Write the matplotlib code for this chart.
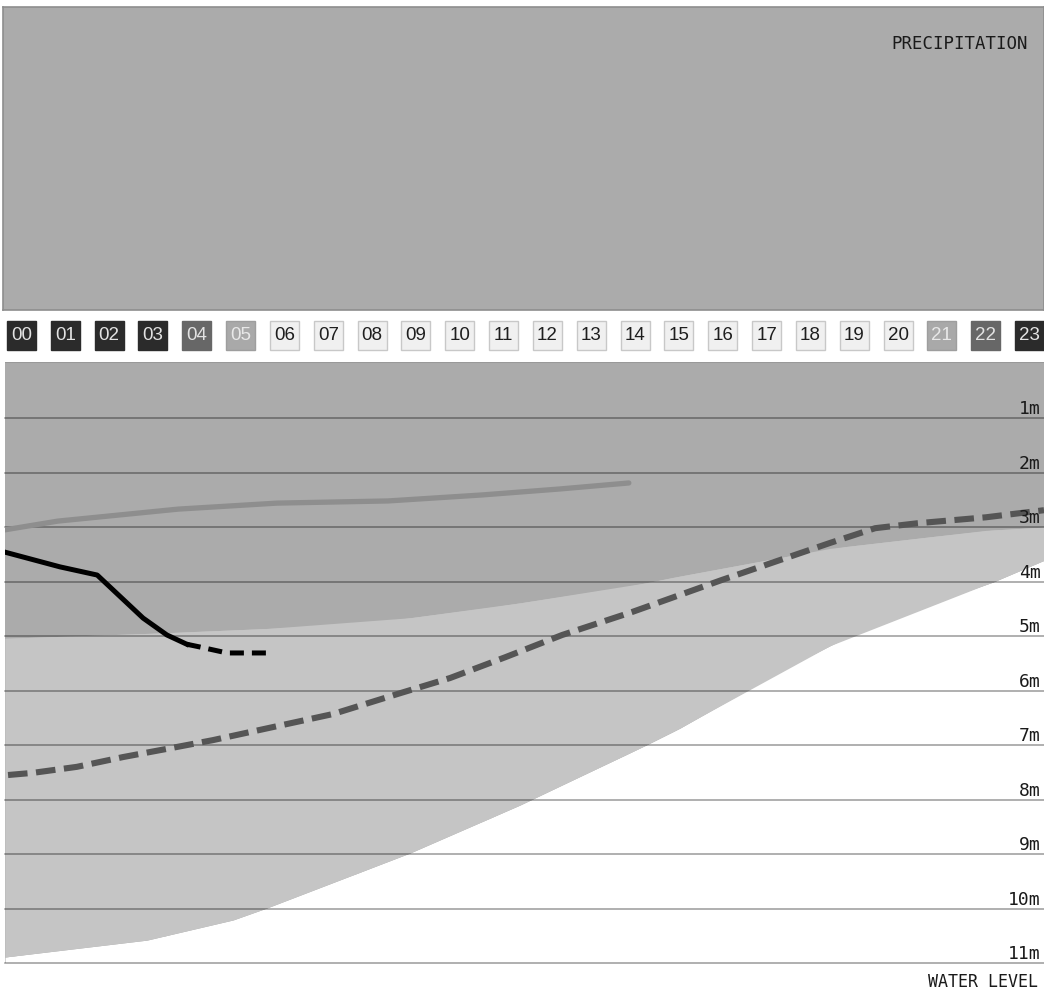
import numpy as np
import matplotlib
matplotlib.use('Agg')
import matplotlib.pyplot as plt
import matplotlib.transforms as mtransforms

# hour strip
hours = list(range(24))
hour_labels = ['%02d' % h for h in hours]
hour_shade = ['dark', 'dark', 'dark', 'dark', 'mid', 'light', 'day', 'day', 'day', 'day',
              'day', 'day', 'day', 'day', 'day', 'day', 'day', 'day', 'day', 'day',
              'day', 'light', 'mid', 'dark']

# water level panel (x in hours, y in metres below top)
depth_ticks = [1, 2, 3, 4, 5, 6, 7, 8, 9, 10, 11]

band_top_x = [0, 3.70, 8.13, 11.23, 14.32, 15.45, 19.06, 22.66, 24.0]
band_top_y = [5.04, 4.94, 4.79, 4.47, 4.10, 3.92, 3.39, 3.06, 3.00]

band_bot_x = [0, 3.28, 5.27, 6.05, 9.36, 11.90, 14.81, 15.59, 17.12, 18.02, 19.45, 20.65, 21.46, 22.82, 24.0]
band_bot_y = [10.89, 10.58, 10.21, 9.99, 8.98, 8.10, 7.00, 6.69, 6.00, 5.59, 5.02, 4.56, 4.38, 4.01, 3.61]

grey_x = [0, 1.22, 4.0, 6.28, 8.85, 11.02, 12.82, 14.41]
grey_y = [3.05, 2.89, 2.67, 2.56, 2.52, 2.41, 2.30, 2.19]

black_x = [0, 1.27, 2.13, 3.19, 3.74, 4.20]
black_y = [3.46, 3.73, 3.88, 4.67, 4.98, 5.15]
black_fc_x = [4.20, 4.50, 5.13, 6.05]
black_fc_y = [5.15, 5.20, 5.31, 5.31]

dash_x = [0.07, 0.65, 1.66, 2.73, 3.74, 4.80, 6.19, 7.58, 9.12, 10.28, 11.55, 12.87, 14.48,
          16.56, 18.25, 19.06, 20.10, 21.07, 22.66, 24.0]
dash_y = [7.55, 7.51, 7.40, 7.22, 7.07, 6.91, 6.67, 6.43, 6.05, 5.77, 5.39, 4.98, 4.56,
          3.97, 3.51, 3.29, 3.02, 2.93, 2.82, 2.69]

W, H = 1044, 992
fig = plt.figure(figsize=(W / 100., H / 100.), dpi=100)
fig.patch.set_facecolor('white')

def px_axes(x0, y0, x1, y1):
    return fig.add_axes([x0 / W, 1 - y1 / H, (x1 - x0) / W, (y1 - y0) / H])

mono = 'DejaVu Sans Mono'
bg = '#ababab'

# precipitation panel
ax_p = px_axes(3, 7, 1044, 310)
ax_p.set_facecolor(bg)
ax_p.set_xticks([])
ax_p.set_yticks([])
for s in ax_p.spines.values():
    s.set_color('#8e8e8e')
    s.set_linewidth(1.2)
ax_p.text((1028 - 3) / 1041., 0.878, 'PRECIPITATION', transform=ax_p.transAxes, ha='right', va='center',
          fontsize=12.5, family=mono, color='#1a1a1a')

# hour boxes
shade_fill = {'dark': '#2b2b2b', 'mid': '#676767', 'light': '#a9a9a9', 'day': '#f0f0f0'}
shade_text = {'dark': '#e2e2e2', 'mid': '#e2e2e2', 'light': '#e8e8e8', 'day': '#1e1e1e'}
shade_edge = {'dark': '#2b2b2b', 'mid': '#676767', 'light': '#9e9e9e', 'day': '#c8c8c8'}

ax_h = px_axes(0, 314, 1044, 357)
step = 43.83
ax_h.set_xlim(-21.5 / step, (W - 21.5) / step)
ax_h.set_ylim(0, 1)
ax_h.axis('off')
ax_h.bar(hours, 29 / 43., bottom=7 / 43., width=29 / step,
         color=[shade_fill[s] for s in hour_shade],
         edgecolor=[shade_edge[s] for s in hour_shade], linewidth=1)
for h, lab, s in zip(hours, hour_labels, hour_shade):
    ax_h.text(h, 0.5, lab, ha='center', va='center', fontsize=13.5,
              family='Liberation Sans', color=shade_text[s])

# water level panel
ax = px_axes(5, 362, 1044, 963)
ax.set_xlim(0, 24)
ax.set_ylim(11, -0.03)
ax.set_facecolor('white')
ax.fill_between([0, 24], -0.03, 11, color=bg, lw=0, zorder=0)
bx = np.array(band_bot_x)
top_on_bot = np.interp(bx, band_top_x, band_top_y)
ax.fill_between(band_bot_x, band_bot_y, 11.2, color='white', lw=0, zorder=1)
ax.fill_between(band_top_x, band_top_y, np.interp(band_top_x, band_bot_x, band_bot_y),
                color='#c5c5c5', lw=0, zorder=1)
ax.fill_between(band_bot_x, top_on_bot, band_bot_y, color='#c5c5c5', lw=0, zorder=1)

for d in depth_ticks:
    ax.axhline(d, color='black', alpha=0.4, lw=1.1, zorder=2, clip_on=False)
    ax.text(0.9965, d, '%dm' % d, transform=mtransforms.blended_transform_factory(ax.transAxes, ax.transData),
            ha='right', va='bottom', fontsize=13, family=mono, color='#1a1a1a', zorder=5)

ax.plot(grey_x, grey_y, color='#8e8e8e', lw=3.8, solid_capstyle='round', zorder=3)
ax.plot(dash_x, dash_y, color='#555555', lw=4.4, dashes=(3.2, 1.4), zorder=3)
ax.plot(black_x, black_y, color='black', lw=3.6, zorder=4)
ax.plot(black_fc_x, black_fc_y, color='black', lw=3.6, dashes=(2.8, 1.6), zorder=4)

ax.set_xticks([])
ax.set_yticks([])
for k, s in ax.spines.items():
    s.set_visible(False)
ax.axhline(-0.03, color='#999999', lw=1.5, zorder=2)

fig.text(1038 / W, 1 - 982 / H, 'WATER LEVEL', ha='right', va='center', fontsize=12,
         family=mono, color='#1a1a1a')

fig.savefig('out.png', dpi=100)
